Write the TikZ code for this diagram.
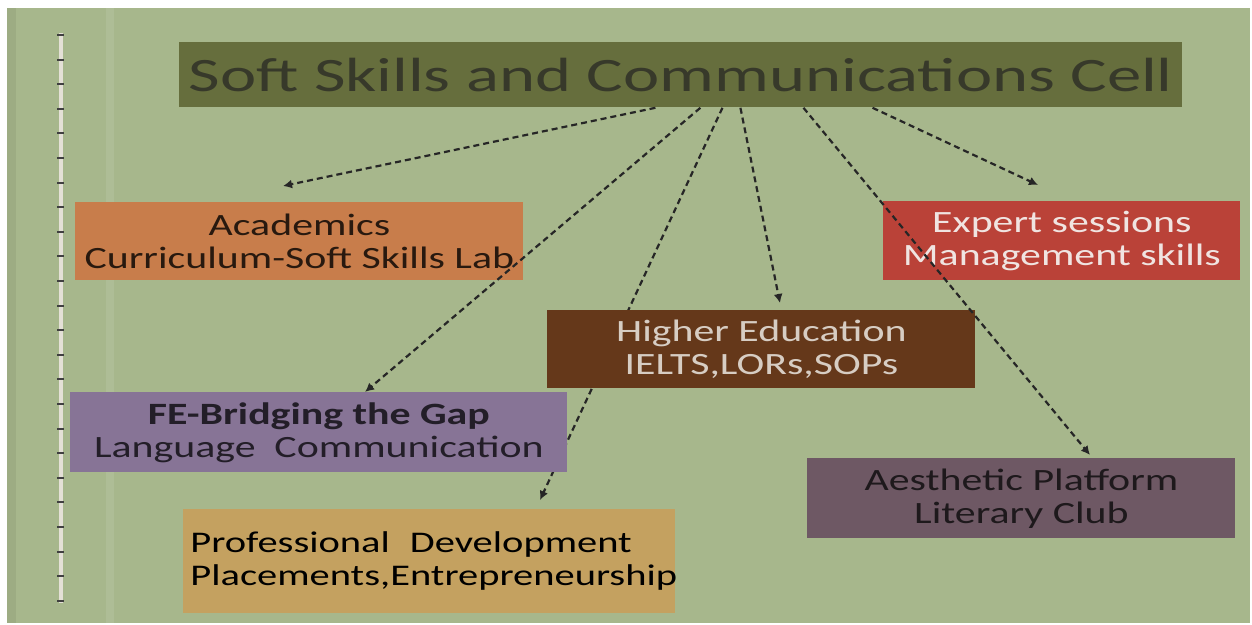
\documentclass[tikz,border=0pt]{standalone}
\usepackage{fontspec}
\setmainfont[FakeStretch=1.35]{Carlito}
\newfontfamily\titlefont[FakeStretch=1.43]{Carlito}
\usetikzlibrary{arrows.meta,calc}
\definecolor{bgc}{RGB}{167,183,140}
\definecolor{titlec}{RGB}{102,110,61}
\definecolor{titletext}{RGB}{55,57,42}
\definecolor{acadc}{RGB}{200,125,75}
\definecolor{expertc}{RGB}{186,66,56}
\definecolor{higherc}{RGB}{101,56,26}
\definecolor{fec}{RGB}{135,116,150}
\definecolor{aesc}{RGB}{110,88,100}
\definecolor{profc}{RGB}{196,161,96}
\definecolor{stitch}{RGB}{228,224,214}
\begin{document}
\begin{tikzpicture}[x=0.5pt,y=-0.5pt,
  box/.style={inner sep=0pt, anchor=north west, align=center,
    font=\fontsize{15.5}{16.5}\selectfont},
  conn/.style={draw=black!85, line width=1.1pt, dash pattern=on 3pt off 2pt,
    -{Latex[length=4.5pt,width=4.5pt]}}]
\fill[white] (0,0) rectangle (1252,625);
\useasboundingbox (0,0) rectangle (1252,625);
\fill[bgc] (7,8) rectangle (1250,623);
\fill[bgc!70!white, opacity=0.3] (106,8) rectangle (114,623);
\fill[bgc!85!black, opacity=0.4] (7,8) rectangle (16,623);
% stitched line
\draw[stitch, line width=2pt] (61,33) -- (61,603);
\foreach \i in {0,...,23} {
  \draw[black!75, line width=1pt] (57,{35+24.6*\i}) -- (64,{35+24.6*\i});
}
% title
\node[box, fill=titlec, minimum width=501.5pt, minimum height=32.5pt,
  text=titletext, font=\titlefont\fontsize{24}{26}\selectfont] (title) at (179,42)
  {Soft Skills and Communications Cell};
\coordinate (s1) at ($(title.south west)!0.4746!(title.south east)$);
\coordinate (s2) at ($(title.south west)!0.5194!(title.south east)$);
\coordinate (s3) at ($(title.south west)!0.5414!(title.south east)$);
\coordinate (s4) at ($(title.south west)!0.5593!(title.south east)$);
\coordinate (s5) at ($(title.south west)!0.6221!(title.south east)$);
\coordinate (s6) at ($(title.south west)!0.6909!(title.south east)$);
\coordinate (e1) at (283,186);
\coordinate (e2) at (365,392);
\coordinate (e3) at (540,500);
\coordinate (e4) at (780,303);
\coordinate (e5) at (1090,455);
\coordinate (e6) at (1038,185);
% connector hidden behind boxes
\draw[conn] (s3) -- (e3);
% boxes
\node[box, fill=acadc, minimum width=224pt, minimum height=39pt,
  text={rgb,255:red,40;green,25;blue,15}] (acad) at (75,202)
  {Academics\\Curriculum-Soft Skills Lab};
\node[box, fill=expertc, minimum width=178.5pt, minimum height=39.5pt,
  text={rgb,255:red,240;green,228;blue,225}] (expert) at (883,201)
  {Expert sessions\\Management skills};
\node[box, fill=higherc, minimum width=214pt, minimum height=39pt,
  text={rgb,255:red,215;green,205;blue,195}] (higher) at (547,310)
  {Higher Education\\IELTS,LORs,SOPs};
\node[box, fill=fec, minimum width=248.5pt, minimum height=40pt,
  text={rgb,255:red,35;green,30;blue,40}] (fe) at (70,392)
  {\bfseries FE-Bridging the Gap\\Language\ \ Communication};
\node[box, fill=aesc, minimum width=214pt, minimum height=40pt,
  text={rgb,255:red,30;green,25;blue,28}] (aes) at (807,458)
  {Aesthetic Platform\\Literary Club};
\node[box, fill=profc, minimum height=52pt, inner xsep=3.5pt, text width=239pt,
  align=left, text=black, font=\fontsize{15}{16.5}\selectfont] (prof) at (183,509)
  {Professional\ \ Development\\Placements,Entrepreneurship};
% connectors on top
\draw[conn] (s1) -- (e1);
\draw[conn] (s2) -- (e2);
\draw[conn] (s4) -- (e4);
\draw[conn] (s5) -- (e5);
\draw[conn] (s6) -- (e6);
\end{tikzpicture}
\end{document}
